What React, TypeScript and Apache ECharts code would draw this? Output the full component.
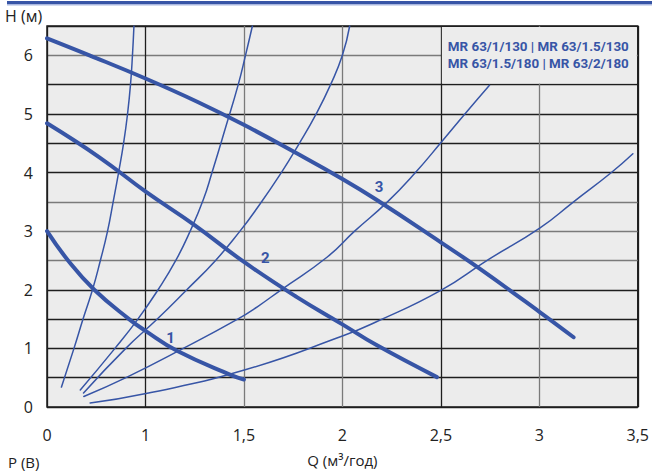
import React, { useEffect, useRef } from "react";
import * as echarts from "echarts";

// Q axis: tick values (evenly spaced on the chart, non-linear in Q)
const Q_TICKS = [0, 1, 1.5, 2, 2.5, 3, 3.5];
const X_LABELS = ["0", "1", "1,5", "2", "2,5", "3", "3,5"];

// Pump curves (Q m³/h, H m)
const CURVE_1 = [[0, 3.0], [0.214, 2.5], [0.48, 2.0], [0.833, 1.5], [1.0, 1.3], [1.16, 0.96], [1.435, 0.545], [1.5, 0.47]];
const CURVE_2 = [[0, 4.84], [0.532, 4.26], [1.003, 3.67], [1.251, 3.1], [1.502, 2.47], [1.769, 1.875], [2.0, 1.41], [2.171, 1.06], [2.48, 0.51]];
const CURVE_3 = [[0, 6.29], [0.431, 6.0], [1.003, 5.6], [1.268, 5.2], [1.502, 4.81], [1.761, 4.34], [2.0, 3.89], [2.171, 3.54], [2.5, 2.81], [2.697, 2.36], [3.002, 1.62], [3.174, 1.19]];

// System curves
const SYS_A = [[0.147, 0.34], [0.274, 1.0], [0.366, 1.5], [0.462, 2.0], [0.542, 2.5], [0.615, 3.0], [0.672, 3.5], [0.727, 4.0], [0.778, 4.5], [0.818, 5.0], [0.848, 5.5], [0.868, 6.0], [0.883, 6.5]];
const SYS_B = [[0.338, 0.29], [0.69, 1.0], [0.923, 1.5], [1.064, 2.0], [1.154, 2.5], [1.227, 3.0], [1.293, 3.53], [1.338, 4.0], [1.408, 4.78], [1.471, 5.5], [1.508, 6.0], [1.543, 6.5]];
const SYS_C = [[0.371, 0.24], [0.8, 1.0], [1.06, 1.5], [1.21, 2.0], [1.356, 2.5], [1.48, 3.0], [1.56, 3.36], [1.69, 4.0], [1.78, 4.49], [1.867, 5.0], [1.94, 5.5], [2.0, 6.0], [2.037, 6.5]];
const SYS_D = [[0.374, 0.18], [0.813, 0.51], [1.192, 1.0], [1.468, 1.5], [1.568, 1.71], [1.689, 2.0], [1.92, 2.55], [2.062, 3.0], [2.229, 3.5], [2.371, 4.0], [2.505, 4.53], [2.622, 5.0], [2.747, 5.49]];
const SYS_E = [[0.438, 0.07], [1.003, 0.23], [1.502, 0.63], [2.0, 1.21], [2.17, 1.45], [2.5, 1.99], [2.739, 2.51], [3.002, 3.05], [3.174, 3.5], [3.366, 4.0], [3.475, 4.32]];

const CURVE_LABELS = [
  { name: "1", value: [1.127, 1.18] },
  { name: "2", value: [1.609, 2.54] },
  { name: "3", value: [2.186, 3.75] },
];

const LEGEND_LINES = ["MR 63/1/130 | MR 63/1.5/130", "MR 63/1.5/180 | MR 63/2/180"];

const BLUE = "#3755a6";
const K = "#1e1e1e";
const G = "#7a7a7a";
const X_GRID_COLORS = [K, K, G, G, K, G, K];
const Y_GRID_COLORS = [K, K, K, K, K, G, G, G, K, K, K, K, G, K];

function qToPos(q: number): number {
  for (let i = 0; i < Q_TICKS.length - 1; i++) {
    if (q <= Q_TICKS[i + 1]) {
      return i + (q - Q_TICKS[i]) / (Q_TICKS[i + 1] - Q_TICKS[i]);
    }
  }
  const n = Q_TICKS.length - 1;
  return n + (q - Q_TICKS[n]) / (Q_TICKS[n] - Q_TICKS[n - 1]);
}

const toXY = (arr: number[][]) => arr.map(([q, h]) => [qToPos(q), h]);

export default function App() {
  const ref = useRef<HTMLDivElement>(null);
  useEffect(() => {
    if (!ref.current) return;
    const chart = echarts.init(ref.current, undefined, { renderer: "svg" });
    const line = (data: number[][], width: number, z: number, smooth: number) => ({
      type: "line",
      data: toXY(data),
      smooth,
      showSymbol: false,
      silent: true,
      lineStyle: { color: BLUE, width, cap: "round", join: "round" },
      z,
    });
    chart.setOption({
      animation: false,
      backgroundColor: "#ffffff",
      textStyle: { fontFamily: "Open Sans" },
      grid: {
        left: 47,
        right: 8,
        top: 26,
        bottom: 65,
        show: true,
        backgroundColor: "#ececec",
        borderColor: K,
        borderWidth: 1.5,
      },
      xAxis: {
        type: "value",
        min: 0,
        max: 6,
        interval: 1,
        axisLine: { show: false },
        axisTick: { show: false },
        axisLabel: {
          formatter: (v: number) => X_LABELS[Math.round(v)] ?? "",
          margin: 20,
          fontSize: 16,
          color: "#222",
          fontFamily: "Open Sans",
        },
        splitLine: { show: true, lineStyle: { color: X_GRID_COLORS, width: 1.3 } },
        name: "Q (м³/год)",
        nameLocation: "middle",
        nameGap: 45,
        nameTextStyle: { fontSize: 15, color: "#222", fontFamily: "Open Sans" },
      },
      yAxis: {
        type: "value",
        min: 0,
        max: 6.5,
        interval: 0.5,
        axisLine: { show: false },
        axisTick: { show: false },
        axisLabel: {
          formatter: (v: number) => (Math.abs(v - Math.round(v)) < 1e-6 && v < 6.4 ? String(Math.round(v)) : ""),
          margin: 14,
          fontSize: 16,
          color: "#222",
          fontFamily: "Open Sans",
        },
        splitLine: { show: true, lineStyle: { color: Y_GRID_COLORS, width: 1.3 } },
      },
      series: [
        line(SYS_A, 1.5, 3, 0.5),
        line(SYS_B, 1.5, 3, 0.5),
        line(SYS_C, 1.5, 3, 0.5),
        line(SYS_D, 1.5, 3, 0.5),
        line(SYS_E, 1.5, 3, 0.5),
        line(CURVE_1, 4, 4, 0.45),
        line(CURVE_2, 4, 4, 0.45),
        line(CURVE_3, 4, 4, 0.45),
        {
          type: "scatter",
          data: CURVE_LABELS.map((d) => ({ name: d.name, value: [qToPos(d.value[0]), d.value[1]] })),
          symbolSize: 1,
          itemStyle: { color: "rgba(0,0,0,0)" },
          silent: true,
          z: 5,
          label: {
            show: true,
            position: "inside",
            formatter: "{b}",
            fontSize: 15,
            fontWeight: "bold",
            color: BLUE,
            textBorderWidth: 0,
            opacity: 1,
            fontFamily: "Roboto",
          },
        },
      ],
    });

    const [x1, y1] = chart.convertToPixel({ gridIndex: 0 }, [4, 6.5]) as number[];
    const [x2, y2] = chart.convertToPixel({ gridIndex: 0 }, [6, 5.5]) as number[];
    chart.setOption({
      graphic: [
        { type: "rect", shape: { x: 7, y: 1, width: 645, height: 3 }, style: { fill: BLUE }, z: 10 },
        { type: "rect", shape: { x: 7, y: 4, width: 645, height: 1.5 }, style: { fill: "#a9b7df" }, z: 10 },
        {
          type: "text",
          left: 5,
          top: 8,
          style: { text: "H (м)", fontSize: 16, fill: "#222", fontFamily: "Open Sans" },
        },
        {
          type: "text",
          left: 8,
          top: 454,
          style: { text: "P (В)", fontSize: 15, fill: "#222", fontFamily: "Open Sans" },
        },
        {
          type: "rect",
          shape: { x: x1 + 1, y: y1 + 1, width: x2 - x1 - 2, height: y2 - y1 - 2 },
          style: { fill: "#ececec" },
          z: 1,
        },
        ...LEGEND_LINES.map((t, i) => ({
          type: "text",
          x: (x1 + x2) / 2 - 1,
          y: y1 + 20 + i * 17,
          z: 2,
          style: {
            text: t,
            fontSize: 13.4,
            fontWeight: "bold",
            fill: BLUE,
            fontFamily: "Roboto",
            align: "center",
            verticalAlign: "middle",
          },
        })),
      ],
    });
    return () => chart.dispose();
  }, []);
  return <div ref={ref} style={{ position: "absolute", left: 0, top: 0, width: 652, height: 472 }} />;
}
